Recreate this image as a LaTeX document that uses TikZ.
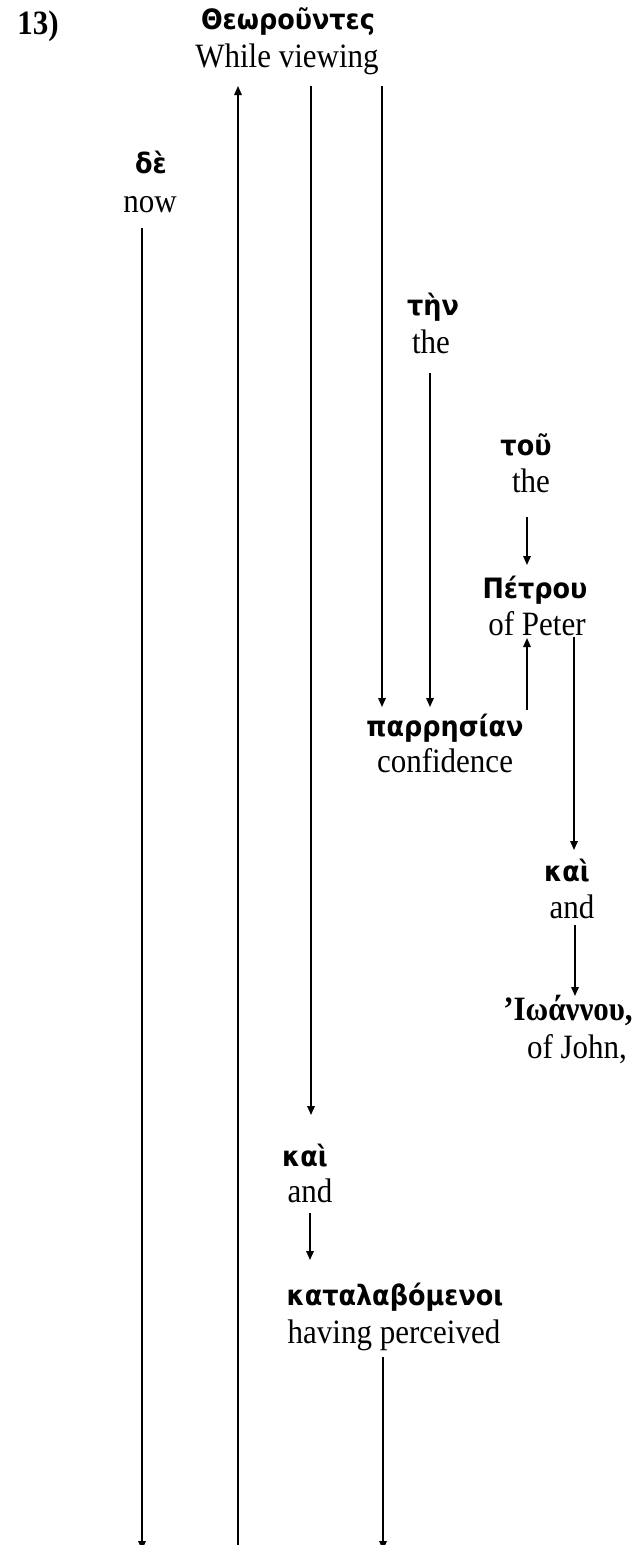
\documentclass[tikz,border=0pt]{standalone}
\usepackage{fontspec}
\usepackage{graphicx}
\setmainfont{Liberation Serif}
\newfontfamily\grk{DejaVu Sans}
\usetikzlibrary{arrows.meta}
\newcommand{\vst}[1]{\scalebox{1}[1.1]{#1}}
\tikzset{
  eng/.style={anchor=base, inner sep=0pt, font=\fontsize{31}{36}\selectfont},
  grkw/.style={anchor=base, inner sep=0pt, font=\grk\bfseries\fontsize{25.5}{30}\selectfont},
  grks/.style={anchor=base, inner sep=0pt, font=\bfseries\fontsize{31}{36}\selectfont},
  arr/.style={line width=1.5pt, -{Triangle[length=9pt,width=7.5pt]}},
}
\begin{document}
\begin{tikzpicture}[x=1pt,y=-1pt]
\useasboundingbox (0,0) rectangle (643,1545);
\coordinate (bot) at (0,1550);
% texts
\node[grks] (t13) at (38,34) {\vst{13)}};
\node[grkw] (theoG) at (288,29) {\vst{Θεωροῦντες}};
\node[eng] (theoE) at (287,67) {\vst{While viewing}};
\node[grkw] (deG) at (151,173) {\vst{δὲ}};
\node[eng] (deE) at (150,212) {\vst{now}};
\node[grkw] (tenG) at (433,315) {\vst{τὴν}};
\node[eng] (tenE) at (431,353) {\vst{the}};
\node[grkw] (touG) at (526,455) {\vst{τοῦ}};
\node[eng] (touE) at (531,492) {\vst{the}};
\node[grkw] (petG) at (535,598) {\vst{Πέτρου}};
\node[eng] (petE) at (537,635) {\vst{of Peter}};
\node[grkw] (parG) at (445,736) {\vst{παρρησίαν}};
\node[eng] (parE) at (445,772) {\vst{confidence}};
\node[grkw] (kaiRG) at (567,881) {\vst{καὶ}};
\node[eng] (kaiRE) at (572,918) {\vst{and}};
\node[grks] (ioaG) at (568,1020) {\vst{’Ιωάννου,}};
\node[eng] (ioaE) at (577,1058) {\vst{of John,}};
\node[grkw] (kaiLG) at (305,1166) {\vst{καὶ}};
\node[eng] (kaiLE) at (310,1202) {\vst{and}};
\node[grkw] (katG) at (395,1305) {\vst{καταλαβόμενοι}};
\node[eng] (katE) at (394,1343) {\vst{having perceived}};
% arrow ends
\coordinate (a1) at ([xshift=-49pt,yshift=-19pt]theoE.base);
\coordinate (a2) at ([xshift=24pt,yshift=-19pt]theoE.base);
\coordinate (a2e) at ([xshift=6pt,yshift=51pt]kaiLG.base);
\coordinate (a3) at ([xshift=95pt,yshift=-19pt]theoE.base);
\coordinate (a3e) at ([xshift=-63pt,yshift=29pt]parG.base);
\coordinate (a4) at ([xshift=-8pt,yshift=-16pt]deE.base);
\coordinate (a5) at ([xshift=-1pt,yshift=-20pt]tenE.base);
\coordinate (a5e) at ([xshift=-15pt,yshift=29pt]parG.base);
\coordinate (a6) at ([xshift=-4pt,yshift=-25pt]touE.base);
\coordinate (a6e) at ([xshift=-8pt,yshift=33pt]petG.base);
\coordinate (a7) at ([xshift=82pt,yshift=26pt]parG.base);
\coordinate (a7e) at ([xshift=-10pt,yshift=-3pt]petE.base);
\coordinate (a8) at ([xshift=37pt,yshift=-2pt]petE.base);
\coordinate (a8e) at ([xshift=7pt,yshift=31pt]kaiRG.base);
\coordinate (a9) at ([xshift=3pt,yshift=-7pt]kaiRE.base);
\coordinate (a9e) at ([xshift=7pt,yshift=24pt]ioaG.base);
\coordinate (a10) at ([xshift=0pt,yshift=-11pt]kaiLE.base);
\coordinate (a10e) at ([xshift=5pt,yshift=45pt]katG.base);
\coordinate (a11) at ([xshift=-11pt,yshift=-14pt]katE.base);
% arrows
\draw[arr] (bot -| a1) -- (a1);
\draw[arr] (a2) -- (a2e -| a2);
\draw[arr] (a3) -- (a3e -| a3);
\draw[arr] (a4) -- (bot -| a4);
\draw[arr] (a5) -- (a5e -| a5);
\draw[arr] (a6) -- (a6e -| a6);
\draw[arr] (a7) -- (a7e -| a7);
\draw[arr] (a8) -- (a8e -| a8);
\draw[arr] (a9) -- (a9e -| a9);
\draw[arr] (a10) -- (a10e -| a10);
\draw[arr] (a11) -- (bot -| a11);
\end{tikzpicture}
\end{document}
